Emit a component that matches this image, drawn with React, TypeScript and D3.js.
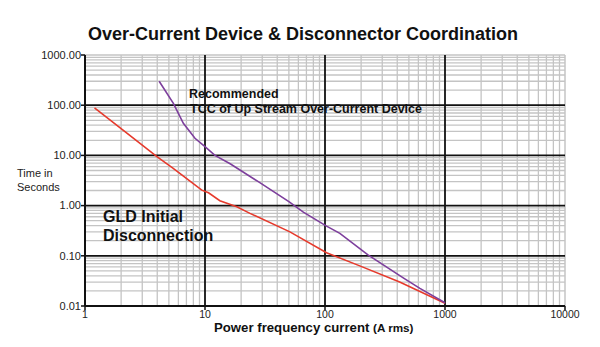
import React from "react";
import * as d3 from "d3";

const xTickValues = [1, 10, 100, 1000, 10000];
const xTickLabels = ["1", "10", "100", "1000", "10000"];
const yTickValues = [0.01, 0.1, 1, 10, 100, 1000];
const yTickLabels = ["0.01", "0.10", "1.00", "10.00", "100.00", "1000.00"];

const gldCurrent = [1.2, 2.0, 3.0, 4.0, 5.4, 7.5, 9.4, 10.7, 13.3, 18.4, 23.7, 51, 103, 195, 419, 1000];
const gldTime = [88, 34, 16, 9.3, 5.6, 3.07, 2.03, 1.8, 1.25, 0.95, 0.7, 0.3, 0.115, 0.063, 0.03, 0.0113];

const tccCurrent = [4.15, 5.45, 6.6, 8.25, 10, 12.1, 16.2, 27.8, 50, 66, 103, 133, 228, 452, 618, 1000];
const tccTime = [300, 109, 43.6, 21.9, 14.9, 10, 6.8, 3.0, 1.2, 0.74, 0.39, 0.28, 0.104, 0.036, 0.0225, 0.0116];

export default function App() {
  const W = 600, H = 347;
  const left = 85, right = 565, top = 55, bottom = 306;
  const x = d3.scaleLog().domain([1, 10000]).range([left, right]);
  const y = d3.scaleLog().domain([0.01, 1000]).range([bottom, top]);

  const isMajor = (v: number) => Math.abs(Math.log10(v) - Math.round(Math.log10(v))) < 1e-9;
  const xMinor = x.ticks(40).filter((v) => !isMajor(v));
  const yMinor = y.ticks(60).filter((v) => !isMajor(v));

  const line = d3
    .line<[number, number]>()
    .x((d) => x(d[0]))
    .y((d) => y(d[1]));
  const gld = gldCurrent.map((c, i) => [c, gldTime[i]] as [number, number]);
  const tcc = tccCurrent.map((c, i) => [c, tccTime[i]] as [number, number]);

  const font = "'Liberation Sans', Arial, sans-serif";
  const gray = "#c4c4c4";

  return (
    <svg width={W} height={H} style={{ position: "absolute", left: 0, top: 0, background: "#fff" }} fontFamily={font}>
      <rect x={0} y={0} width={W} height={H} fill="#fff" />
      <text x={303} y={40} textAnchor="middle" fontSize={18} fontWeight="bold" fill="#111">
        Over-Current Device &amp; Disconnector Coordination
      </text>

      {/* minor grid */}
      {xMinor.map((v) => (
        <line key={"xm" + v} x1={x(v)} x2={x(v)} y1={top} y2={bottom} stroke={gray} strokeWidth={1.3} />
      ))}
      {yMinor.map((v) => (
        <line key={"ym" + v} x1={left} x2={right} y1={y(v)} y2={y(v)} stroke={gray} strokeWidth={1.3} />
      ))}
      {/* frame top/right */}
      <line x1={left} x2={right} y1={y(1000)} y2={y(1000)} stroke={gray} strokeWidth={1.5} />
      <line x1={x(10000)} x2={x(10000)} y1={top} y2={bottom} stroke={gray} strokeWidth={1.5} />

      {/* major grid */}
      {xTickValues.slice(1, -1).map((v) => (
        <line key={"xM" + v} x1={x(v)} x2={x(v)} y1={top} y2={bottom} stroke="#111" strokeWidth={1.8} />
      ))}
      {yTickValues.slice(1, -1).map((v) => (
        <line key={"yM" + v} x1={left} x2={right} y1={y(v)} y2={y(v)} stroke="#111" strokeWidth={1.8} />
      ))}

      {/* axes */}
      <line x1={left} x2={left} y1={top} y2={bottom} stroke="#111" strokeWidth={2} />
      <line x1={left} x2={right} y1={bottom} y2={bottom} stroke="#111" strokeWidth={2} />
      {yTickValues.map((v, i) => (
        <g key={"yt" + v}>
          <line x1={left - 4} x2={left} y1={y(v)} y2={y(v)} stroke="#111" strokeWidth={1.5} />
          <text x={left - 4} y={y(v)} dy="0.35em" textAnchor="end" fontSize={11} fill="#222">
            {yTickLabels[i]}
          </text>
        </g>
      ))}
      {xTickValues.map((v, i) => (
        <g key={"xt" + v}>
          <line x1={x(v)} x2={x(v)} y1={bottom} y2={bottom + 4} stroke="#111" strokeWidth={1.5} />
          <text x={x(v)} y={318} textAnchor="middle" fontSize={10.5} fill="#222">
            {xTickLabels[i]}
          </text>
        </g>
      ))}

      {/* curves */}
      <path d={line(gld) || ""} fill="none" stroke="#e63a2c" strokeWidth={1.6} />
      <path d={line(tcc) || ""} fill="none" stroke="#7d3f9c" strokeWidth={1.6} />

      {/* annotations */}
      <text x={189} y={98} fontSize={12.5} fontWeight="bold" fill="#111">Recommended</text>
      <text x={190} y={113} fontSize={12.5} fontWeight="bold" fill="#111">TCC of Up Stream Over-Current Device</text>
      <text x={103} y={222} fontSize={16} fontWeight="bold" fill="#111">GLD Initial</text>
      <text x={103} y={241} fontSize={16} fontWeight="bold" fill="#111">Disconnection</text>

      {/* axis titles */}
      <text x={17} y={177} fontSize={11} fill="#222">Time in</text>
      <text x={17} y={191} fontSize={11} fill="#222">Seconds</text>
      <text x={214} y={332} fontWeight="bold" fill="#111">
        <tspan fontSize={13.2}>Power frequency current </tspan>
        <tspan fontSize={11.7}>(A rms)</tspan>
      </text>
    </svg>
  );
}
